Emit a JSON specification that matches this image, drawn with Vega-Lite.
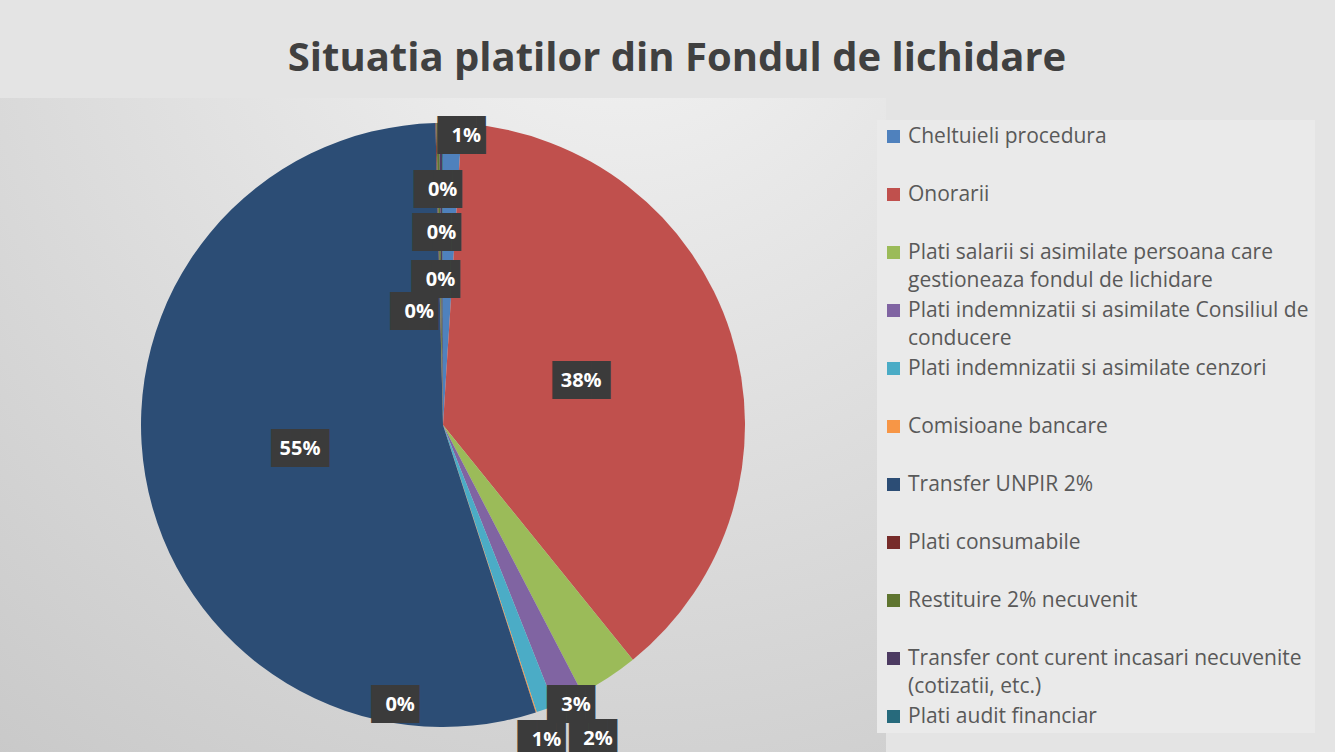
{
  "$schema": "https://vega.github.io/schema/vega-lite/v6.json",
  "width": 886,
  "height": 654,
  "autosize": {"type": "none"},
  "padding": {"left": 0, "top": 98, "right": 449, "bottom": 0},
  "background": "#e4e4e4",
  "title": {
    "text": "Situatia platilor din Fondul de lichidare",
    "font": "Open Sans",
    "fontSize": 40,
    "fontWeight": "bold",
    "color": "#404040",
    "anchor": "middle",
    "frame": "group",
    "dx": 234,
    "baseline": "alphabetic",
    "offset": -52
  },
  "data": {
    "values": [
      {"idx": 1, "cat": "Cheltuieli procedura", "value": 0.010},
      {"idx": 2, "cat": "Onorarii", "value": 0.382},
      {"idx": 3, "cat": "Plati salarii si asimilate persoana care gestioneaza fondul de lichidare", "value": 0.032},
      {"idx": 4, "cat": "Plati indemnizatii si asimilate Consiliul de conducere", "value": 0.016},
      {"idx": 5, "cat": "Plati indemnizatii si asimilate cenzori", "value": 0.010},
      {"idx": 6, "cat": "Comisioane bancare", "value": 0.0005},
      {"idx": 7, "cat": "Transfer UNPIR 2%", "value": 0.546},
      {"idx": 8, "cat": "Plati consumabile", "value": 0.0005},
      {"idx": 9, "cat": "Restituire 2% necuvenit", "value": 0.0015},
      {"idx": 10, "cat": "Transfer cont curent incasari necuvenite (cotizatii, etc.)", "value": 0.0015},
      {"idx": 11, "cat": "Plati audit financiar", "value": 0.0005}
    ]
  },
  "layer": [
    {
      "data": {"values": [{}]},
      "mark": {
        "type": "rect",
        "color": {
          "gradient": "radial",
          "x1": 0.7, "y1": -0.05, "r1": 0,
          "x2": 0.7, "y2": -0.05, "r2": 1.3,
          "stops": [
            {"offset": 0, "color": "#f4f4f4"},
            {"offset": 1, "color": "#c4c4c4"}
          ]
        }
      },
      "encoding": {}
    },
    {
      "encoding": {
        "theta": {"field": "value", "type": "quantitative", "stack": true},
        "order": {"field": "idx", "type": "quantitative"}
      },
      "layer": [
        {
          "mark": {"type": "arc", "radius": 302},
          "encoding": {
            "color": {
              "field": "cat",
              "type": "nominal",
              "sort": null,
              "scale": {
                "domain": [
                  "Cheltuieli procedura",
                  "Onorarii",
                  "Plati salarii si asimilate persoana care gestioneaza fondul de lichidare",
                  "Plati indemnizatii si asimilate Consiliul de conducere",
                  "Plati indemnizatii si asimilate cenzori",
                  "Comisioane bancare",
                  "Transfer UNPIR 2%",
                  "Plati consumabile",
                  "Restituire 2% necuvenit",
                  "Transfer cont curent incasari necuvenite (cotizatii, etc.)",
                  "Plati audit financiar"
                ],
                "range": ["#4F81BD", "#C0504D", "#9BBB59", "#8064A2", "#4BACC6", "#F79646", "#2C4D75", "#772C2A", "#5F7530", "#4D3B62", "#276A7C"]
              },
              "legend": {
                "title": null,
                "orient": "none",
                "legendX": 877,
                "legendY": 22,
                "symbolType": "square",
                "symbolSize": 169,
                "symbolStrokeWidth": 0,
                "labelFont": "Open Sans",
                "labelFontSize": 21,
                "labelColor": "#595959",
                "labelLimit": 600,
                "labelOffset": 4,
                "rowPadding": 8,
                "gridAlign": "all",
                "padding": 6,
                "fillColor": "#eaeaea",
                "labelExpr": "datum.label == 'Plati salarii si asimilate persoana care gestioneaza fondul de lichidare' ? ['Plati salarii si asimilate persoana care', 'gestioneaza fondul de lichidare'] : datum.label == 'Plati indemnizatii si asimilate Consiliul de conducere' ? ['Plati indemnizatii si asimilate Consiliul de', 'conducere'] : datum.label == 'Transfer cont curent incasari necuvenite (cotizatii, etc.)' ? ['Transfer cont curent incasari necuvenite', '(cotizatii, etc.)'] : datum.label",
                "encode": {"labels": {"update": {"lineHeight": {"value": 28}}}}
              }
            }
          }
        },
        {
          "mark": {"type": "text", "radius": 145, "font": "DejaVu Sans Mono", "fontSize": 32, "fill": "#3b3b3b"},
          "encoding": {"text": {"condition": {"test": "datum.cat === 'Onorarii' || datum.cat === 'Transfer UNPIR 2%'", "value": "███"}, "value": ""}}
        },
        {
          "mark": {"type": "text", "radius": 145, "font": "Open Sans", "fontSize": 20, "fontWeight": "bold", "fill": "#ffffff"},
          "encoding": {"text": {"condition": {"test": "datum.cat === 'Onorarii' || datum.cat === 'Transfer UNPIR 2%'", "field": "value", "type": "quantitative", "format": ".0%"}, "value": ""}}
        },
        {
          "mark": {"type": "text", "radius": 290, "thetaOffset": 0.049, "font": "DejaVu Sans Mono", "fontSize": 32, "fill": "#3b3b3b"},
          "encoding": {"text": {"condition": {"test": "datum.cat === 'Cheltuieli procedura'", "value": "██▌"}, "value": ""}}
        },
        {
          "mark": {"type": "text", "radius": 290, "thetaOffset": 0.049, "font": "Open Sans", "fontSize": 20, "fontWeight": "bold", "fill": "#ffffff"},
          "encoding": {"text": {"condition": {"test": "datum.cat === 'Cheltuieli procedura'", "field": "value", "type": "quantitative", "format": ".0%"}, "value": ""}}
        },
        {
          "mark": {"type": "text", "radius": 235, "font": "DejaVu Sans Mono", "fontSize": 32, "fill": "#3b3b3b"},
          "encoding": {"text": {"condition": {"test": "datum.cat === 'Plati audit financiar'", "value": "██▌"}, "value": ""}}
        },
        {
          "mark": {"type": "text", "radius": 235, "font": "Open Sans", "fontSize": 20, "fontWeight": "bold", "fill": "#ffffff"},
          "encoding": {"text": {"condition": {"test": "datum.cat === 'Plati audit financiar'", "field": "value", "type": "quantitative", "format": ".0%"}, "value": ""}}
        },
        {
          "mark": {"type": "text", "radius": 192, "font": "DejaVu Sans Mono", "fontSize": 32, "fill": "#3b3b3b"},
          "encoding": {"text": {"condition": {"test": "datum.cat === 'Transfer cont curent incasari necuvenite (cotizatii, etc.)'", "value": "██▌"}, "value": ""}}
        },
        {
          "mark": {"type": "text", "radius": 192, "font": "Open Sans", "fontSize": 20, "fontWeight": "bold", "fill": "#ffffff"},
          "encoding": {"text": {"condition": {"test": "datum.cat === 'Transfer cont curent incasari necuvenite (cotizatii, etc.)'", "field": "value", "type": "quantitative", "format": ".0%"}, "value": ""}}
        },
        {
          "mark": {"type": "text", "radius": 145, "font": "DejaVu Sans Mono", "fontSize": 32, "fill": "#3b3b3b"},
          "encoding": {"text": {"condition": {"test": "datum.cat === 'Restituire 2% necuvenit'", "value": "██▌"}, "value": ""}}
        },
        {
          "mark": {"type": "text", "radius": 145, "font": "Open Sans", "fontSize": 20, "fontWeight": "bold", "fill": "#ffffff"},
          "encoding": {"text": {"condition": {"test": "datum.cat === 'Restituire 2% necuvenit'", "field": "value", "type": "quantitative", "format": ".0%"}, "value": ""}}
        },
        {
          "mark": {"type": "text", "radius": 115, "thetaOffset": -0.185, "font": "DejaVu Sans Mono", "fontSize": 32, "fill": "#3b3b3b"},
          "encoding": {"text": {"condition": {"test": "datum.cat === 'Plati consumabile'", "value": "██▌"}, "value": ""}}
        },
        {
          "mark": {"type": "text", "radius": 115, "thetaOffset": -0.185, "font": "Open Sans", "fontSize": 20, "fontWeight": "bold", "fill": "#ffffff"},
          "encoding": {"text": {"condition": {"test": "datum.cat === 'Plati consumabile'", "field": "value", "type": "quantitative", "format": ".0%"}, "value": ""}}
        },
        {
          "mark": {"type": "text", "radius": 283, "thetaOffset": 0.466, "font": "DejaVu Sans Mono", "fontSize": 32, "fill": "#3b3b3b"},
          "encoding": {"text": {"condition": {"test": "datum.cat === 'Comisioane bancare'", "value": "██▌"}, "value": ""}}
        },
        {
          "mark": {"type": "text", "radius": 283, "thetaOffset": 0.466, "font": "Open Sans", "fontSize": 20, "fontWeight": "bold", "fill": "#ffffff"},
          "encoding": {"text": {"condition": {"test": "datum.cat === 'Comisioane bancare'", "field": "value", "type": "quantitative", "format": ".0%"}, "value": ""}}
        },
        {
          "mark": {"type": "text", "radius": 350, "thetaOffset": -0.03, "font": "DejaVu Sans Mono", "fontSize": 32, "fill": "#3b3b3b"},
          "encoding": {"text": {"condition": {"test": "datum.cat === 'Plati indemnizatii si asimilate Consiliul de conducere'", "value": "██▌"}, "value": ""}}
        },
        {
          "mark": {"type": "text", "radius": 350, "thetaOffset": -0.03, "font": "Open Sans", "fontSize": 20, "fontWeight": "bold", "fill": "#ffffff"},
          "encoding": {"text": {"condition": {"test": "datum.cat === 'Plati indemnizatii si asimilate Consiliul de conducere'", "field": "value", "type": "quantitative", "format": ".0%"}, "value": ""}}
        },
        {
          "mark": {"type": "text", "radius": 332, "thetaOffset": 0.03, "font": "DejaVu Sans Mono", "fontSize": 32, "fill": "#3b3b3b"},
          "encoding": {"text": {"condition": {"test": "datum.cat === 'Plati indemnizatii si asimilate cenzori'", "value": "██▌"}, "value": ""}}
        },
        {
          "mark": {"type": "text", "radius": 332, "thetaOffset": 0.03, "font": "Open Sans", "fontSize": 20, "fontWeight": "bold", "fill": "#ffffff"},
          "encoding": {"text": {"condition": {"test": "datum.cat === 'Plati indemnizatii si asimilate cenzori'", "field": "value", "type": "quantitative", "format": ".0%"}, "value": ""}}
        },
        {
          "mark": {"type": "text", "radius": 310, "thetaOffset": 0.136, "font": "DejaVu Sans Mono", "fontSize": 32, "fill": "#3b3b3b"},
          "encoding": {"text": {"condition": {"test": "datum.cat === 'Plati salarii si asimilate persoana care gestioneaza fondul de lichidare'", "value": "██▌"}, "value": ""}}
        },
        {
          "mark": {"type": "text", "radius": 310, "thetaOffset": 0.136, "font": "Open Sans", "fontSize": 20, "fontWeight": "bold", "fill": "#ffffff"},
          "encoding": {"text": {"condition": {"test": "datum.cat === 'Plati salarii si asimilate persoana care gestioneaza fondul de lichidare'", "field": "value", "type": "quantitative", "format": ".0%"}, "value": ""}}
        }
      ]
    }
  ],
  "config": {
    "view": {"stroke": null}
  }
}
